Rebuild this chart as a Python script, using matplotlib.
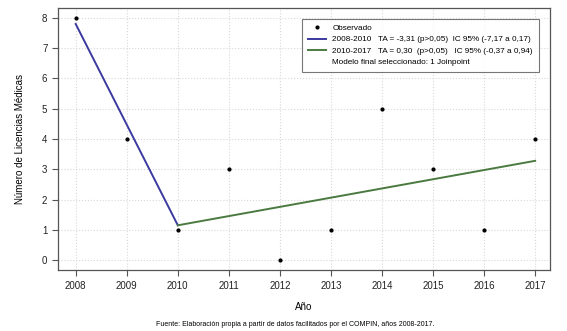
import matplotlib
matplotlib.use("Agg")
import matplotlib.pyplot as plt
from matplotlib.lines import Line2D

years = [2008, 2009, 2010, 2011, 2012, 2013, 2014, 2015, 2016, 2017]
observed = [8, 4, 1, 3, 0, 1, 5, 3, 1, 4]
seg1_x = [2008, 2010]
seg1_y = [7.80, 1.15]
seg2_x = [2010, 2017]
seg2_y = [1.15, 3.28]
yticks = [0, 1, 2, 3, 4, 5, 6, 7, 8]

plt.rcParams['font.family'] = ['Liberation Sans', 'DejaVu Sans']
fig = plt.figure(figsize=(5.67, 3.31), dpi=100)
ax = fig.add_axes([0.102, 0.184, 0.868, 0.792])

ax.grid(True, color='#d8d8d8', linestyle=':', linewidth=0.8)
ax.set_axisbelow(True)
ax.scatter(years, observed, s=4, color='black', zorder=3)
ax.plot(seg1_x, seg1_y, color='#3a3aa0', linewidth=1.4, zorder=2)
ax.plot(seg2_x, seg2_y, color='#4a7a40', linewidth=1.4, zorder=2)

ax.set_xlim(2007.65, 2017.29)
ax.set_ylim(-0.33, 8.33)
ax.set_xticks(years)
ax.set_yticks(yticks)
ax.tick_params(labelsize=7, color='#555555', length=4, labelcolor='#222222')
for s in ax.spines.values():
    s.set_color('#555555')
    s.set_linewidth(0.9)

ax.set_xlabel('Año', fontsize=7, labelpad=8)
ax.set_ylabel('Número de Licencias Médicas', fontsize=7, labelpad=12)

handles = [
    Line2D([], [], marker='o', linestyle='none', color='black', markersize=2),
    Line2D([], [], color='#3a3aa0', linewidth=1.4),
    Line2D([], [], color='#4a7a40', linewidth=1.4),
    Line2D([], [], color='none'),
]
labels = [
    'Observado',
    '2008-2010   TA = -3,31 (p>0,05)  IC 95% (-7,17 a 0,17)',
    '2010-2017   TA = 0,30  (p>0,05)   IC 95% (-0,37 a 0,94)',
    'Modelo final seleccionado: 1 Joinpoint',
]
leg = ax.legend(handles, labels, loc='upper right', bbox_to_anchor=(0.985, 0.975),
                fontsize=5.9, frameon=True, fancybox=False, edgecolor='#555555',
                handlelength=2.2, borderpad=0.7, labelspacing=0.45)
leg.get_frame().set_linewidth(0.8)

fig.text(0.52, 0.01, 'Fuente: Elaboración propia a partir de datos facilitados por el COMPIN, años 2008-2017.',
         ha='center', va='bottom', fontsize=5)

fig.savefig('out.png', dpi=100)
